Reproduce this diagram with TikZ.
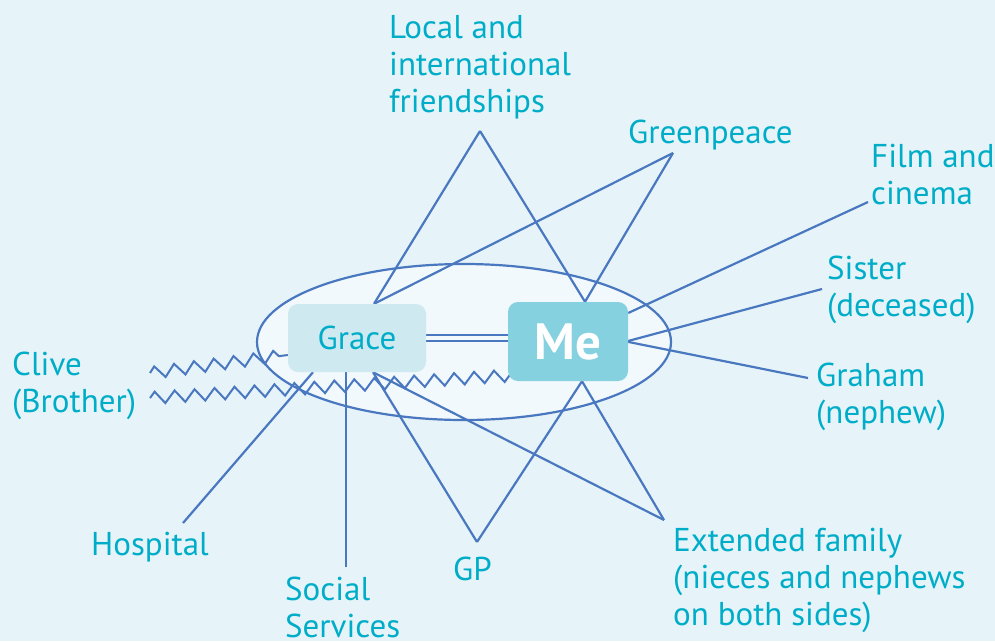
\documentclass[tikz,border=0pt]{standalone}
\usepackage{fontspec}
\setmainfont{PT Sans}
\usepackage{tikz}
\usetikzlibrary{decorations.pathmorphing,backgrounds}
\definecolor{bgblue}{HTML}{E6F4F9}
\definecolor{ovalfill}{HTML}{F1F9FC}
\definecolor{linkblue}{HTML}{4A78C0}
\definecolor{labelcyan}{HTML}{00ADC8}
\definecolor{gracefill}{HTML}{CFE9F0}
\definecolor{mefill}{HTML}{86D1DF}
\begin{document}
\begin{tikzpicture}[x=1pt,y=-1pt,
  link/.style={linkblue,line width=2.2pt},
  wiggle/.style={link,line width=2pt,decorate,decoration={zigzag,segment length=20pt,amplitude=6pt}},
  lbl/.style={anchor=base west,inner sep=0pt,align=left,text=labelcyan,font=\fontsize{33}{37}\selectfont},
  person/.style={rounded corners=10pt,inner sep=0pt}]
\useasboundingbox (0,0) rectangle (995,641);
% the two people
\node[person,fill=gracefill,minimum width=138pt,minimum height=68pt,text=labelcyan,font=\fontsize{33}{37}\selectfont] (grace) at (357,338) {Grace};
\node[person,fill=mefill,minimum width=120pt,minimum height=79pt,text=white,font=\fontsize{51}{51}\selectfont\bfseries] (me) at (568,341.5) {Me};
% labels round the oval (base = last line)
\node[lbl] (local) at (389,112) {Local and\\international\\friendships};
\node[lbl] (green) at (628,143) {Greenpeace};
\node[lbl] (film) at (871,204) {Film and\\cinema};
\node[lbl] (sister) at (827,316) {Sister\\(deceased)};
\node[lbl] (graham) at (816,423) {Graham\\(nephew)};
\node[lbl] (clive) at (12,412) {Clive\\(Brother)};
\node[lbl] (hosp) at (91,555) {Hospital};
\node[lbl] (social) at (285,637) {Social\\Services};
\node[lbl] (gp) at (453,580) {GP};
\node[lbl] (ext) at (673,625) {Extended family\\(nieces and nephews\\on both sides)};
% end points
\coordinate (gN) at ([xshift=17pt]grace.north);
\coordinate (gS) at ([xshift=16pt]grace.south);
\coordinate (gSW) at ([xshift=-44pt]grace.south);
\coordinate (gSS) at ([xshift=-11pt]grace.south);
\coordinate (mN) at ([xshift=17pt]me.north);
\coordinate (mS) at ([xshift=14pt]me.south);
\coordinate (mNE) at ([yshift=28.5pt]me.east);
\coordinate (mE) at ([xshift=-2pt]me.east);
\coordinate (locT) at (480,131);
\coordinate (greenT) at (673,153);
\coordinate (filmT) at (868,202);
\coordinate (sisT) at (822,289);
\coordinate (graT) at (808,378);
\coordinate (hospT) at (183,523);
\coordinate (socT) at (346,567);
\coordinate (gpT) at (477,542);
\coordinate (extT) at (664,520);
\coordinate (zUp) at (150,373);
\coordinate (zLow) at (150,398);
\begin{scope}[on background layer]
\fill[bgblue] (0,0) rectangle (995,641);
\draw[link,fill=ovalfill] (464,342) ellipse [x radius=207, y radius=78];
\foreach \a/\b in {gN/locT,locT/mN,gN/greenT,greenT/mN,gS/gpT,gpT/mS,gS/extT,extT/mS,
  mNE/filmT,mE/sisT,mE/graT,gSW/hospT,gSS/socT} {
   \draw[link] (\a) -- (\b);
}
\draw[link,line width=1.8pt,double=ovalfill,double distance=3.6pt] (grace.east) -- (grace.east -| me.west);
\draw[wiggle] (zUp) -- ([yshift=-17pt]grace.west);
\draw[wiggle] (zLow) -- ([xshift=4pt,yshift=-34pt]me.west);
\end{scope}
\end{tikzpicture}
\end{document}
